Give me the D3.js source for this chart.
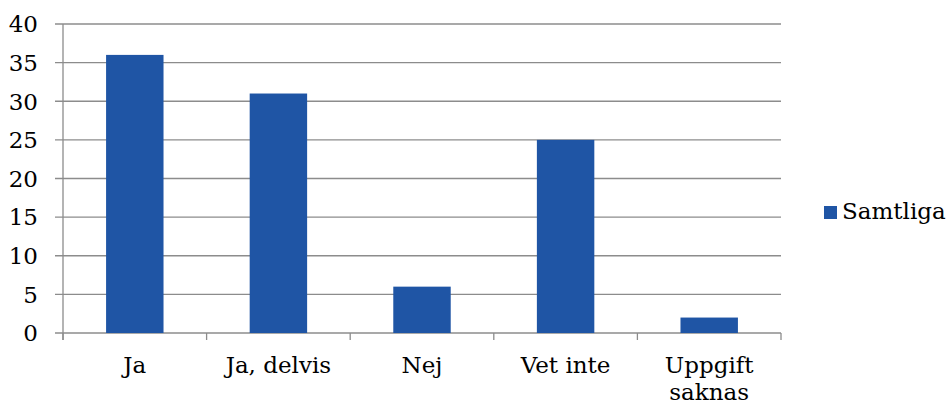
<!DOCTYPE html>
<html><head><meta charset="utf-8">
<script src="https://cdn.jsdelivr.net/npm/d3@7"></script>
<style>body{margin:0;background:#fff}svg{display:block}</style>
</head><body><svg id="c" width="949" height="403"></svg>
<script>
const categories = ["Ja", "Ja, delvis", "Nej", "Vet inte", "Uppgift saknas"];
const values = [36, 31, 6, 25, 2];
const yTicks = [0, 5, 10, 15, 20, 25, 30, 35, 40];
const seriesName = "Samtliga";

const FONT = '"DejaVu Serif","Liberation Serif",serif';
const svg = d3.select("#c");
const pL = 63, pR = 781, pT = 24, pB = 333;
const x = d3.scaleBand().domain(categories).range([pL, pR]).paddingInner(0.6).paddingOuter(0.3);
const xb = d3.scaleBand().domain(categories).range([pL, pR]);
const y = d3.scaleLinear().domain([0, 40]).range([pB, pT]);
const grid = "#8c8c8c", color = "#1f55a5";

// gridlines
svg.append("g").selectAll("line").data(yTicks).join("line")
  .attr("x1", 55).attr("x2", pR).attr("y1", d => y(d)).attr("y2", d => y(d))
  .attr("stroke", grid).attr("stroke-width", 1.3);
// y axis line
svg.append("line").attr("x1", pL).attr("x2", pL).attr("y1", pT).attr("y2", pB + 7)
  .attr("stroke", grid).attr("stroke-width", 1.3);
// y labels
svg.append("g").selectAll("text").data(yTicks).join("text")
  .attr("x", 38).attr("y", d => y(d)).attr("dy", "0.36em").attr("text-anchor", "end")
  .style("font-family", FONT).style("font-size", "23px").attr("fill", "#000").text(d => d);
// bars
svg.append("g").selectAll("rect").data(values).join("rect")
  .attr("x", (d, i) => x(categories[i])).attr("width", x.bandwidth())
  .attr("y", d => y(d)).attr("height", d => y(0) - y(d)).attr("fill", color);
// x axis ticks
const bounds = categories.map(c => xb(c)).concat([pR]);
svg.append("g").selectAll("line").data(bounds).join("line")
  .attr("x1", d => d).attr("x2", d => d).attr("y1", pB).attr("y2", pB + 7)
  .attr("stroke", grid).attr("stroke-width", 1.3);
// x labels
const xl = svg.append("g").selectAll("text").data(categories).join("text")
  .attr("x", d => xb(d) + xb.bandwidth() / 2).attr("y", 373)
  .attr("text-anchor", "middle").style("font-family", FONT).style("font-size", "23px").attr("fill", "#000");
xl.each(function(d) {
  const t = d3.select(this);
  const parts = d === "Uppgift saknas" ? ["Uppgift", "saknas"] : [d];
  parts.forEach((p, i) => t.append("tspan").attr("x", xb(d) + xb.bandwidth() / 2).attr("dy", i ? 27 : 0).text(p));
});
// legend
svg.append("rect").attr("x", 824).attr("y", 206).attr("width", 13).attr("height", 13).attr("fill", color);
svg.append("text").attr("x", 842).attr("y", 219).style("font-family", FONT).style("font-size", "23px")
  .attr("fill", "#000").text(seriesName);
</script></body></html>
